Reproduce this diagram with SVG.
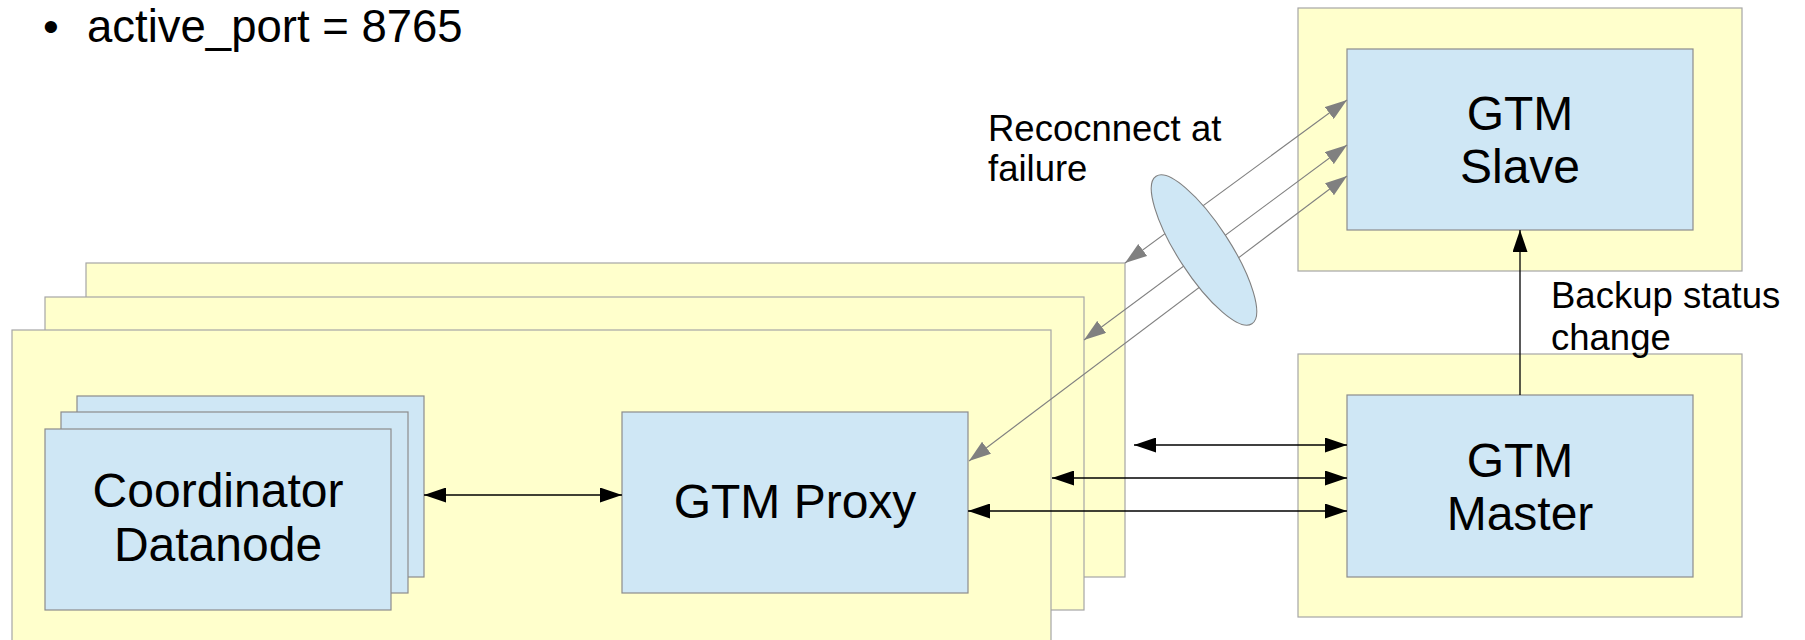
<svg xmlns="http://www.w3.org/2000/svg" width="1805" height="640" viewBox="0 0 1805 640">
  <defs>
    <style>
      .panel { fill: #ffffcc; stroke: #a6a6a6; stroke-width: 1.2; }
      .box { fill: #cfe7f5; stroke: #8c8c8c; stroke-width: 1.2; }
      .lbl { font-family: "Liberation Sans", Arial, sans-serif; fill: #000; }
      .big { font-size: 48px; text-anchor: middle; }
      .note { font-size: 36.5px; }
      .link { stroke: #000; stroke-width: 1.3; fill: none; }
      .fail { stroke: #808080; stroke-width: 1.1; fill: none; }
    </style>
    <marker id="ah" markerUnits="userSpaceOnUse" viewBox="0 0 22 15" refX="22" refY="7.5" markerWidth="22" markerHeight="15" orient="auto-start-reverse">
      <path d="M0,0 L22,7.5 L0,15 Z" fill="#000"/>
    </marker>
    <marker id="gh" markerUnits="userSpaceOnUse" viewBox="0 0 22 15" refX="22" refY="7.5" markerWidth="22" markerHeight="15" orient="auto-start-reverse">
      <path d="M0,0 L22,7.5 L0,15 Z" fill="#808080"/>
    </marker>
  </defs>

  <rect width="1805" height="640" fill="#fff"/>

  <!-- bullet text -->
  <g id="active-port">
    <text class="lbl" x="43" y="42" font-size="45">•</text>
    <text class="lbl" x="87" y="42" font-size="45.5">active_port = 8765</text>
  </g>

  <!-- stacked server panels, back to front -->
  <g id="server-3"><rect class="panel" x="86" y="263" width="1039" height="314"/></g>
  <g id="server-2"><rect class="panel" x="45" y="297" width="1039" height="313"/></g>
  <g id="server-1">
    <rect class="panel" x="12" y="330" width="1039" height="330"/>
  </g>

  <!-- coordinator / datanode stack -->
  <g id="coordinator-datanode">
    <rect class="box" x="77" y="396" width="347" height="181"/>
    <rect class="box" x="61" y="412" width="347" height="181"/>
    <rect class="box" x="45" y="429" width="346" height="181"/>
    <text class="lbl big" x="218" y="507">Coordinator</text>
    <text class="lbl big" x="218" y="561">Datanode</text>
  </g>

  <g id="gtm-proxy">
    <rect class="box" x="622" y="412" width="346" height="181"/>
    <text class="lbl big" x="795" y="518">GTM Proxy</text>
  </g>

  <g id="gtm-slave">
    <rect class="panel" x="1298" y="8" width="444" height="263"/>
    <rect class="box" x="1347" y="49" width="346" height="181"/>
    <text class="lbl big" x="1520" y="130">GTM</text>
    <text class="lbl big" x="1520" y="183">Slave</text>
  </g>

  <g id="gtm-master">
    <rect class="panel" x="1298" y="354" width="444" height="263"/>
    <rect class="box" x="1347" y="395" width="346" height="182"/>
    <text class="lbl big" x="1520" y="477">GTM</text>
    <text class="lbl big" x="1520" y="530">Master</text>
  </g>

  <!-- connectors -->
  <g id="connectors">
    <line class="link" x1="424" y1="495" x2="622" y2="495" marker-start="url(#ah)" marker-end="url(#ah)"/>
    <line class="link" x1="1134" y1="445" x2="1347" y2="445" marker-start="url(#ah)" marker-end="url(#ah)"/>
    <line class="link" x1="1052" y1="478" x2="1347" y2="478" marker-start="url(#ah)" marker-end="url(#ah)"/>
    <line class="link" x1="968" y1="511" x2="1347" y2="511" marker-start="url(#ah)" marker-end="url(#ah)"/>
    <line class="link" x1="1520" y1="395" x2="1520" y2="230" marker-end="url(#ah)"/>

    <line class="fail" x1="1125" y1="263" x2="1347" y2="100" marker-start="url(#gh)" marker-end="url(#gh)"/>
    <line class="fail" x1="1084" y1="340" x2="1347" y2="145" marker-start="url(#gh)" marker-end="url(#gh)"/>
    <line class="fail" x1="969" y1="461" x2="1347" y2="176" marker-start="url(#gh)" marker-end="url(#gh)"/>
  </g>

  <!-- reconnect group ellipse -->
  <g id="reconnect">
    <ellipse cx="1204" cy="250" rx="88" ry="26" transform="rotate(57 1204 250)" fill="#cfe7f5" stroke="#808080" stroke-width="1.1"/>
    <text class="lbl note" x="988" y="141">Recocnnect at</text>
    <text class="lbl note" x="988" y="181">failure</text>
  </g>

  <g id="backup-label">
    <text class="lbl note" x="1551" y="308">Backup status</text>
    <text class="lbl note" x="1551" y="350">change</text>
  </g>
</svg>
